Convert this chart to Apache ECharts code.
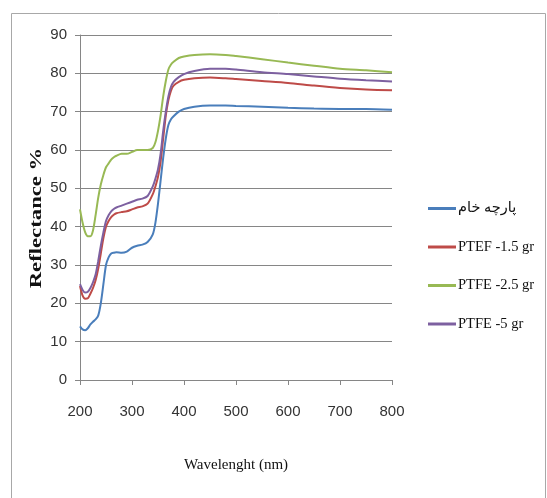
<!DOCTYPE html>
<html>
<head>
<meta charset="utf-8">
<script src="https://cdn.jsdelivr.net/npm/echarts@6/dist/echarts.min.js"></script>
<style>
  html, body { margin: 0; padding: 0; background: #fff; }
  #chart { width: 547px; height: 498px; }
</style>
</head>
<body>
<div id="chart"></div>
<script>
// Diffuse reflectance spectra of untreated fabric and PTFE-treated samples
const wavelengths = [200, 205, 210, 215, 220, 225, 230, 235, 240, 245, 250, 255, 260, 265, 270, 280, 290, 300, 310, 320, 330, 340, 345, 350, 355, 360, 365, 370, 375, 380, 390, 400, 420, 450, 480, 500, 550, 600, 650, 700, 750, 800];

const rawFabric = [14, 13.2, 13, 13.5, 14.5, 15.2, 15.8, 16.8, 20, 25, 30, 32, 33, 33.2, 33.3, 33.2, 33.5, 34.5, 35, 35.3, 36, 38, 41, 46, 52, 58, 63, 66.5, 68, 68.8, 70, 70.7, 71.3, 71.6, 71.6, 71.5, 71.3, 71.0, 70.8, 70.7, 70.7, 70.5];
const ptfe15 = [24.5, 22, 21.2, 21.3, 22.5, 24, 26, 29, 33, 37, 40, 41.5, 42.5, 43.1, 43.5, 43.8, 44, 44.5, 45, 45.3, 46, 48.5, 50.5, 53, 57, 63, 69, 73, 75.5, 76.8, 77.8, 78.3, 78.7, 78.9, 78.7, 78.5, 78, 77.5, 76.8, 76.2, 75.8, 75.6];
const ptfe25 = [44.5, 41, 38.5, 37.5, 37.5, 39, 43, 47.5, 51, 53.5, 55.5, 56.5, 57.5, 58.1, 58.5, 59, 59, 59.5, 60, 60, 60, 60.5, 62, 65, 69, 74, 78, 81, 82.3, 83, 84, 84.4, 84.8, 85, 84.8, 84.5, 83.7, 82.8, 82, 81.2, 80.8, 80.3];
const ptfe5 = [25, 23.5, 22.8, 23, 24, 25.5, 27.5, 31, 35, 38.5, 41.5, 43, 44, 44.6, 45, 45.5, 46, 46.5, 47, 47.3, 48, 50.5, 52.5, 55, 59, 65, 70, 74, 76.5, 77.8, 79, 79.8, 80.6, 81.2, 81.2, 81, 80.3, 79.8, 79.2, 78.6, 78.2, 77.9];

const seriesNames = ['پارچه خام', 'PTEF -1.5 gr', 'PTFE -2.5 gr', 'PTFE -5 gr'];
const seriesValues = [rawFabric, ptfe15, ptfe25, ptfe5];
const seriesColors = ['#4A7EBB', '#BE4B48', '#98B954', '#7D60A0'];

const xTicks = { min: 200, max: 800, step: 100 };
const yTicks = { min: 0, max: 90, step: 10 };

const axisFont = "'Liberation Sans', 'DejaVu Sans', sans-serif";
const serifFont = "'Liberation Serif', 'DejaVu Serif', 'DejaVu Sans', serif";

const chart = echarts.init(document.getElementById('chart'));

chart.setOption({
  backgroundColor: '#ffffff',
  animation: false,
  grid: { left: 80, right: 155, top: 35, bottom: 118, containLabel: false },
  xAxis: {
    type: 'value',
    min: xTicks.min, max: xTicks.max, interval: xTicks.step,
    name: 'Wavelenght (nm)',
    nameLocation: 'middle',
    nameGap: 78,
    nameTextStyle: { fontFamily: serifFont, fontSize: 15, color: '#111' },
    axisLine: { lineStyle: { color: '#868686', width: 1 } },
    axisTick: { show: true, length: 5, lineStyle: { color: '#868686' } },
    axisLabel: { margin: 24, fontFamily: axisFont, fontSize: 15, color: '#333' },
    splitLine: { show: false }
  },
  yAxis: {
    type: 'value',
    min: yTicks.min, max: yTicks.max, interval: yTicks.step,
    axisLine: { show: true, lineStyle: { color: '#868686', width: 1 } },
    axisTick: { show: true, length: 5, lineStyle: { color: '#868686' } },
    axisLabel: { margin: 13, fontFamily: axisFont, fontSize: 15, color: '#333' },
    splitLine: { show: true, lineStyle: { color: '#868686', width: 1 } }
  },
  legend: {
    orient: 'vertical',
    left: 423,
    top: 196,
    itemWidth: 28,
    itemHeight: 3,
    itemGap: 23.5,
    icon: 'rect',
    textStyle: { fontFamily: serifFont, fontSize: 14.5, color: '#111', padding: [0, 0, 0, -3] },
    data: seriesNames
  },
  graphic: [
    {
      type: 'rect',
      left: 9, top: 11,
      shape: { width: 534, height: 500 },
      style: { fill: 'none', stroke: '#a8a8a8', lineWidth: 1 },
      silent: true, z: -1
    },
    {
      type: 'text',
      x: 37, y: 218,
      rotation: Math.PI / 2,
      scaleX: 1.42,
      style: {
        text: 'Reflectance %',
        font: "bold 16px 'Liberation Serif', serif",
        fill: '#111',
        align: 'center',
        verticalAlign: 'middle'
      },
      silent: true
    }
  ],
  series: seriesNames.map((name, i) => ({
    name: name,
    type: 'line',
    data: wavelengths.map((w, j) => [w, seriesValues[i][j]]),
    showSymbol: false,
    symbol: 'none',
    smooth: 0.25,
    lineStyle: { color: seriesColors[i], width: 2 },
    itemStyle: { color: seriesColors[i] }
  }))
});
</script>
</body>
</html>
